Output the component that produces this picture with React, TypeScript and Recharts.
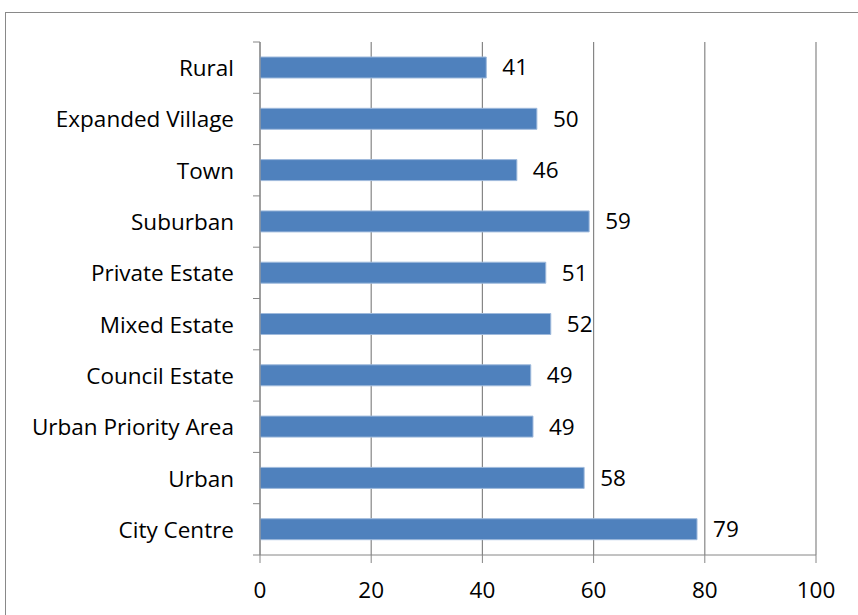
import React from "react";
import {
  BarChart,
  Bar,
  XAxis,
  YAxis,
  CartesianGrid,
  LabelList,
} from "recharts";

const categories = [
  "Rural",
  "Expanded Village",
  "Town",
  "Suburban",
  "Private Estate",
  "Mixed Estate",
  "Council Estate",
  "Urban Priority Area",
  "Urban",
  "City Centre",
];

const scores = [40.7, 49.8, 46.2, 59.2, 51.4, 52.3, 48.7, 49.1, 58.3, 78.6];

const xTicks = [0, 20, 40, 60, 80, 100];

const data = categories.map((name, i) => ({ name, score: scores[i] }));

const W = 858;
const H = 615;
const TOP = 42;
const BOTTOM = 60;
const LEFT = 260;
const RIGHT = 42;
const BAND = (H - TOP - BOTTOM) / categories.length;
const GRID = "#868686";
const FONT = "'Open Sans', 'Noto Sans', sans-serif";
const FS = 22.5;

function CategoryTick(props: any) {
  const { x, y, payload, index } = props;
  const axisX = LEFT;
  const top = y - BAND / 2;
  return (
    <g>
      <line x1={axisX - 7} x2={axisX} y1={top} y2={top} stroke={GRID} />
      {index === categories.length - 1 && (
        <line
          x1={axisX - 7}
          x2={axisX}
          y1={top + BAND}
          y2={top + BAND}
          stroke={GRID}
        />
      )}
      <text
        x={x}
        y={y}
        textAnchor="end"
        dominantBaseline="central"
        fontSize={FS}
        fontFamily={FONT}
        fill="#000"
      >
        {payload.value}
      </text>
    </g>
  );
}

export default function App() {
  return (
    <div
      style={{
        position: "absolute",
        left: 0,
        top: 0,
        width: W,
        height: H,
        background: "#fff",
        overflow: "hidden",
      }}
    >
      <div
        style={{
          position: "absolute",
          left: 5,
          top: 12,
          width: W,
          height: H,
          border: "1.5px solid #898989",
          boxSizing: "border-box",
        }}
      />
      <div style={{ position: "absolute", left: 0, top: 0 }}>
        <BarChart
          layout="vertical"
          width={W}
          height={H}
          data={data}
          margin={{ top: TOP, right: RIGHT, left: 0, bottom: 0 }}
        >
          <CartesianGrid
            horizontal={false}
            vertical={true}
            stroke={GRID}
            strokeWidth={1.2}
          />
          <XAxis
            type="number"
            domain={[0, 100]}
            ticks={xTicks}
            height={BOTTOM}
            tickSize={8}
            tickMargin={19}
            stroke={GRID}
            tick={{ fill: "#000", fontSize: FS, fontFamily: FONT }}
            interval={0}
          />
          <YAxis
            type="category"
            dataKey="name"
            width={LEFT}
            tickLine={false}
            tickMargin={20}
            stroke={GRID}
            tick={<CategoryTick />}
            interval={0}
          />
          <Bar
            dataKey="score"
            fill="#4f81bd"
            stroke="#9fbadc"
            strokeWidth={1}
            barSize={21}
            isAnimationActive={false}
          >
            <LabelList
              dataKey="score"
              position="right"
              offset={16}
              formatter={(v: any) => Math.round(Number(v))}
              style={{ fill: "#000", fontSize: FS, fontFamily: FONT }}
            />
          </Bar>
        </BarChart>
      </div>
    </div>
  );
}
